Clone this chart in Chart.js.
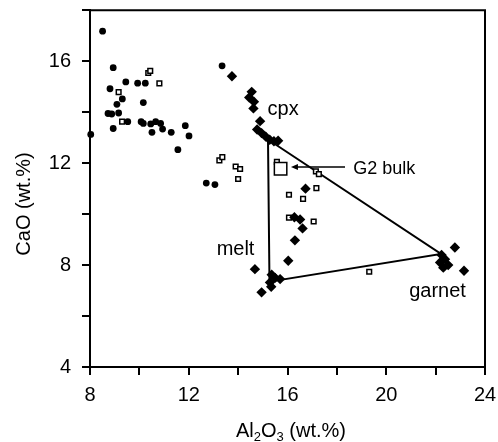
<!DOCTYPE html>
<html>
<head>
<meta charset="utf-8">
<script src="https://cdn.jsdelivr.net/npm/chart.js@4"></script>
<style>
  html, body { margin: 0; padding: 0; background: #fff; }
  #wrap { width: 498px; height: 442px; }
</style>
</head>
<body>
<div id="wrap"><canvas id="c" width="498" height="442"></canvas></div>
<script>
// Al2O3 vs CaO (wt.%)

// Whole-rock analyses (filled circles)
const rockAl = [8.51, 8.94, 8.81, 9.45, 9.93, 10.24, 9.31, 9.09, 10.16, 8.73, 8.88, 9.16, 8.94, 8.03, 9.53,
                10.07, 10.16, 10.46, 10.66, 10.86, 10.51, 10.94, 11.29, 11.86, 12.01, 11.56, 12.71, 13.06, 13.35];
const rockCa = [17.18, 15.75, 14.92, 15.19, 15.14, 15.14, 14.52, 14.31, 14.38, 13.95, 13.93, 13.97, 13.36, 13.13, 13.63,
                13.63, 13.56, 13.54, 13.63, 13.56, 13.21, 13.34, 13.21, 13.47, 13.07, 12.53, 11.22, 11.16, 15.82];

// Xenolith analyses (open squares)
const xenoAl = [10.36, 10.44, 10.81, 9.16, 9.30, 13.24, 13.36, 13.90, 14.08, 14.00, 15.57, 17.15, 17.27, 17.17,
                16.06, 16.63, 16.06, 17.06, 19.31];
const xenoCa = [15.54, 15.62, 15.13, 14.79, 13.63, 12.11, 12.24, 11.87, 11.77, 11.38, 12.05, 11.68, 11.57, 11.02,
                10.76, 10.60, 9.86, 9.71, 7.74];

// Mineral and melt compositions (filled diamonds)
const phaseAl = [13.75, 14.55, 14.45, 14.64, 14.62, 14.89, 14.77, 14.95, 15.12, 15.28, 15.45, 15.62,
                 16.73, 16.28, 16.51, 16.61, 16.30, 16.03,
                 14.68, 15.36, 15.50, 15.70, 15.29, 15.34, 14.95,
                 22.24, 22.38, 22.18, 22.51, 22.31, 22.78, 23.15];
const phaseCa = [15.41, 14.80, 14.58, 14.41, 14.15, 13.65, 13.32, 13.18, 13.04, 12.92, 12.86, 12.88,
                 11.00, 9.88, 9.79, 9.44, 8.97, 8.17,
                 7.84, 7.62, 7.50, 7.45, 7.32, 7.15, 6.93,
                 8.40, 8.23, 8.10, 8.00, 7.90, 8.69, 7.78];

// Bulk composition of sample G2
const bulkAl = [15.72];
const bulkCa = [11.78];

// cpx - melt - garnet triangle (closed back to cpx)
const triAl = [15.21, 15.27, 22.22, 15.21];
const triCa = [12.93, 7.35, 8.44, 12.93];

// Axis ticks
const xTickLabels = [8, 12, 16, 20, 24];
const yTickLabels = [4, 8, 12, 16];

const pts = (xs, ys) => xs.map((x, i) => ({ x, y: ys[i] }));

const FONT = "'Liberation Sans', Arial, sans-serif";

// Text notes placed in data units
const notes = [
  { text: 'cpx',     x: 15.19, y: 13.88, size: 20 },
  { text: 'melt',    x: 13.13, y: 8.39,  size: 20 },
  { text: 'garnet',  x: 20.93, y: 6.74,  size: 20 },
  { text: 'G2 bulk', x: 18.66, y: 11.59, size: 18 }
];
// Arrow pointing at the bulk composition
const arrow = { fromX: 18.33, toX: 16.14, y: 11.85 };

const decorations = {
  id: 'decorations',
  afterDraw(chart) {
    const { ctx, chartArea: a, scales: { x, y } } = chart;
    ctx.save();
    // closing frame on top and right
    ctx.strokeStyle = '#000';
    ctx.lineWidth = 2;
    ctx.beginPath();
    ctx.moveTo(a.left, a.top);
    ctx.lineTo(a.right, a.top);
    ctx.lineTo(a.right, a.bottom);
    ctx.stroke();

    // notes
    ctx.fillStyle = '#000';
    ctx.textBaseline = 'alphabetic';
    ctx.textAlign = 'left';
    notes.forEach(n => {
      ctx.font = n.size + 'px ' + FONT;
      ctx.fillText(n.text, x.getPixelForValue(n.x), y.getPixelForValue(n.y));
    });

    // arrow
    const ay = y.getPixelForValue(arrow.y);
    const ax0 = x.getPixelForValue(arrow.fromX);
    const ax1 = x.getPixelForValue(arrow.toX);
    ctx.lineWidth = 1.5;
    ctx.beginPath();
    ctx.moveTo(ax0, ay);
    ctx.lineTo(ax1 + 5, ay);
    ctx.stroke();
    ctx.beginPath();
    ctx.moveTo(ax1, ay);
    ctx.lineTo(ax1 + 7, ay - 3);
    ctx.lineTo(ax1 + 7, ay + 3);
    ctx.closePath();
    ctx.fill();

    // y axis title
    ctx.font = '20px ' + FONT;
    ctx.textAlign = 'center';
    ctx.save();
    ctx.translate(30, 204);
    ctx.rotate(-Math.PI / 2);
    ctx.fillText('CaO (wt.%)', 0, 0);
    ctx.restore();

    // x axis title with subscripts
    const parts = [
      { t: 'Al', sub: false }, { t: '2', sub: true }, { t: 'O', sub: false },
      { t: '3', sub: true }, { t: ' (wt.%)', sub: false }
    ];
    const mainF = '20px ' + FONT, subF = '13px ' + FONT;
    let total = 0;
    parts.forEach(p => { ctx.font = p.sub ? subF : mainF; p.w = ctx.measureText(p.t).width; total += p.w; });
    let cx = 291 - total / 2;
    const base = 437;
    ctx.textAlign = 'left';
    parts.forEach(p => {
      ctx.font = p.sub ? subF : mainF;
      ctx.fillText(p.t, cx, p.sub ? base + 4 : base);
      cx += p.w;
    });
    ctx.restore();
  }
};

const axisCommon = {
  border: { display: true, color: '#000', width: 2 },
  grid: { drawOnChartArea: false, drawTicks: true, tickLength: 8, color: '#000', lineWidth: 2 },
};

new Chart(document.getElementById('c'), {
  type: 'scatter',
  data: {
    datasets: [
      { data: pts(triAl, triCa), showLine: true, borderColor: '#000', borderWidth: 2,
        pointRadius: 0, fill: false, tension: 0, order: 5, clip: false },
      { data: pts(rockAl, rockCa), pointStyle: 'circle', pointRadius: 3.4,
        backgroundColor: '#000', borderColor: '#000', borderWidth: 0, order: 4, clip: false },
      { data: pts(xenoAl, xenoCa), pointStyle: 'rect', pointRadius: 3.3,
        backgroundColor: '#fff', borderColor: '#000', borderWidth: 1.5, order: 3, clip: false },
      { data: pts(phaseAl, phaseCa), pointStyle: 'rectRot', pointRadius: 5.2,
        backgroundColor: '#000', borderColor: '#000', borderWidth: 0, order: 2, clip: false },
      { data: pts(bulkAl, bulkCa), pointStyle: 'rect', pointRadius: 8.8,
        backgroundColor: '#fff', borderColor: '#000', borderWidth: 1.5, order: 1, clip: false }
    ]
  },
  options: {
    responsive: false,
    animation: false,
    devicePixelRatio: 1,
    layout: { padding: { left: 0, right: 13, top: 8, bottom: 0 } },
    plugins: { legend: { display: false }, tooltip: { enabled: false } },
    elements: { point: { hoverRadius: 0 } },
    scales: {
      x: {
        ...axisCommon,
        type: 'linear', min: 8, max: 24,
        ticks: {
          stepSize: 2, autoSkip: false, maxRotation: 0, padding: 8, color: '#000',
          font: { family: FONT, size: 20 },
          callback: v => xTickLabels.includes(v) ? String(v) : ''
        },
        afterFit(s) { s.height = 75; s.paddingLeft = 0; s.paddingRight = 0; s.paddingTop = 0; s.paddingBottom = 0; }
      },
      y: {
        ...axisCommon,
        type: 'linear', min: 4, max: 18,
        ticks: {
          stepSize: 2, autoSkip: false, padding: 11, color: '#000',
          font: { family: FONT, size: 20 },
          callback: v => yTickLabels.includes(v) ? String(v) : ''
        },
        afterFit(s) { s.width = 90; s.paddingLeft = 0; s.paddingRight = 0; s.paddingTop = 0; s.paddingBottom = 0; }
      }
    }
  },
  plugins: [decorations]
});
</script>
</body>
</html>
